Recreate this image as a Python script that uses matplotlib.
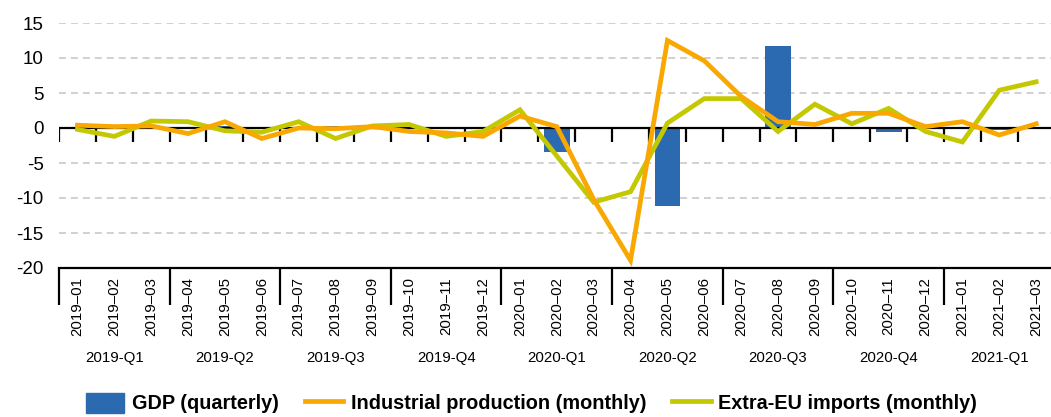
import matplotlib
matplotlib.use("Agg")
import matplotlib.pyplot as plt
from matplotlib import font_manager
from matplotlib.patches import Patch
from matplotlib.lines import Line2D

months = ['2019–01', '2019–02', '2019–03', '2019–04', '2019–05', '2019–06',
          '2019–07', '2019–08', '2019–09', '2019–10', '2019–11', '2019–12',
          '2020–01', '2020–02', '2020–03', '2020–04', '2020–05', '2020–06',
          '2020–07', '2020–08', '2020–09', '2020–10', '2020–11', '2020–12',
          '2021–01', '2021–02', '2021–03']
quarters = ['2019-Q1', '2019-Q2', '2019-Q3', '2019-Q4', '2020-Q1',
            '2020-Q2', '2020-Q3', '2020-Q4', '2021-Q1']
gdp_quarterly = [0.5, 0.3, 0.3, 0.1, -3.4, -11.2, 11.7, -0.5, -0.3]
industrial_production = [0.4, 0.2, 0.3, -0.8, 0.9, -1.5, 0.0, -0.1, 0.2,
                         -0.5, -0.7, -1.2, 1.7, 0.2, -10.2, -18.9, 12.5,
                         9.6, 4.5, 0.9, 0.5, 2.1, 2.1, 0.2, 0.9, -1.0, 0.6]
extra_eu_imports = [-0.2, -1.2, 1.0, 0.9, -0.4, -0.6, 0.9, -1.5, 0.3,
                    0.5, -1.2, -0.5, 2.6, -4.0, -10.6, -9.1, 0.7, 4.2,
                    4.2, -0.5, 3.4, 0.6, 2.8, -0.5, -2.0, 5.4, 6.6]

BLUE = '#2b6ab1'
ORANGE = '#f8a800'
GREEN = '#c4c800'

names = {f.name for f in font_manager.fontManager.ttflist}
if 'Liberation Sans Narrow' in names:
    CAT_FONT = {'family': 'Liberation Sans Narrow', 'size': 13}
else:
    CAT_FONT = {'family': 'Liberation Sans', 'size': 10.8}

plt.rcParams['lines.scale_dashes'] = False
W, H = 1051, 417
fig = plt.figure(figsize=(W / 100, H / 100), dpi=100)
left_px, right_px, top_px, bot_px = 59, 1054.6, 23, 268
ax = fig.add_axes([left_px / W, 1 - bot_px / H, (right_px - left_px) / W, (bot_px - top_px) / H])

x = list(range(len(months)))
gdp_x = [3 * q + 1 for q in range(len(quarters))]

ax.bar(gdp_x, gdp_quarterly, width=0.7, color=BLUE, zorder=2)
ax.plot(x, extra_eu_imports, color=GREEN, lw=3.4, zorder=4, solid_joinstyle='miter')
ax.plot(x, industrial_production, color=ORANGE, lw=3.4, zorder=5, solid_joinstyle='miter')

ax.set_xlim(-0.5, len(months) - 0.5)
ax.set_ylim(-20, 15)
ax.set_yticks(range(-20, 16, 5))
ax.set_yticklabels([str(v) for v in range(-20, 16, 5)], fontsize=13.5, family='Liberation Sans')
ax.tick_params(axis='y', length=0, pad=11)
for v in range(-15, 16, 5):
    if v != 0:
        ax.axhline(v, color='#c4c4c4', lw=1.1, linestyle=(0, (5, 3.6)), zorder=1)

ax.axhline(0, color='black', lw=1.6, zorder=3)
bounds = [i - 0.5 for i in range(len(months) + 1)]
ax.vlines(bounds, -2.0, 0, color='black', lw=1.6, zorder=3)

for s in ['top', 'right', 'left']:
    ax.spines[s].set_visible(False)
ax.spines['bottom'].set_linewidth(1.6)

ax.set_xticks(x)
ax.set_xticklabels(months, rotation=90, fontdict=CAT_FONT)
ax.tick_params(axis='x', length=0, pad=6.5)
for lab in ax.get_xticklabels():
    lab.set_verticalalignment('top')

qb = [i - 0.5 for i in range(0, len(months) + 1, 3)]
ax.vlines(qb, 0, -37 / 245, transform=ax.get_xaxis_transform(), color='black', lw=1.6, clip_on=False)

for q, name in enumerate(quarters):
    ax.text(3 * q + 1, -(358 - bot_px) / 245, name, transform=ax.get_xaxis_transform(),
            ha='center', va='center', fontdict=CAT_FONT)

handles = [Patch(color=BLUE, label='GDP (quarterly)'),
           Line2D([], [], color=ORANGE, lw=3.4, label='Industrial production (monthly)'),
           Line2D([], [], color=GREEN, lw=3.4, label='Extra-EU imports (monthly)')]
fig.legend(handles=handles, loc='center', bbox_to_anchor=(531.5 / W, 1 - 403 / H), ncol=3,
           frameon=False, prop={'family': 'Liberation Sans', 'weight': 'bold', 'size': 14.3},
           handlelength=1.95, handleheight=1.2, handletextpad=0.38, columnspacing=1.3,
           borderpad=0, borderaxespad=0)

fig.savefig('out.png', dpi=100)
